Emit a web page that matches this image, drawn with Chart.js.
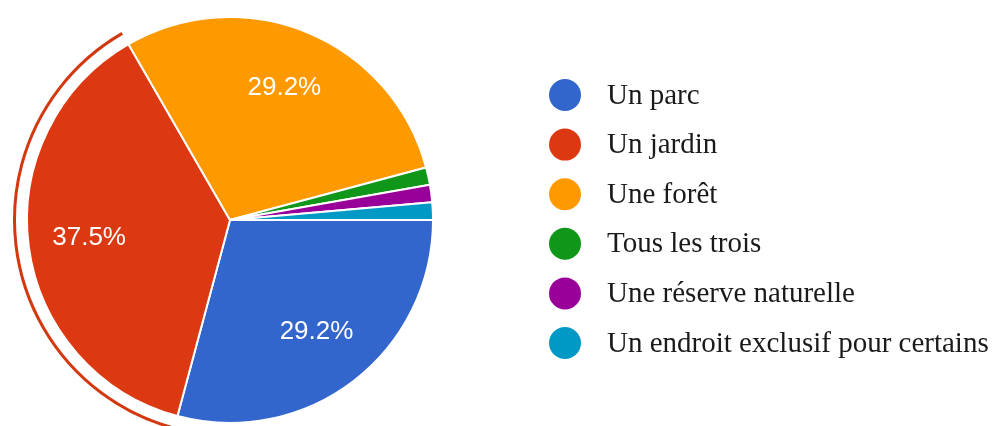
<!DOCTYPE html>
<html lang="fr">
<head>
<meta charset="utf-8">
<script src="https://cdn.jsdelivr.net/npm/chart.js@4/dist/chart.umd.min.js"></script>
<style>
    html, body { margin: 0; padding: 0; background: #fff; }
    #wrap { width: 995px; height: 426px; }
</style>
</head>
<body>
<div id="wrap"><canvas id="lieuChart" width="995" height="426"></canvas></div>
<script>
// Réponses au sondage (nombre de personnes)
const labels = ['Un parc', 'Un jardin', 'Une forêt', 'Tous les trois', 'Une réserve naturelle', 'Un endroit exclusif pour certains'];
const counts = [21, 27, 21, 1, 1, 1];
const colors = ['#3366cc', '#dc3912', '#ff9900', '#109618', '#990099', '#0099c6'];
const highlighted = 1; // tranche mise en avant (Un jardin)

// pourcentages dans les tranches
const sliceLabels = {
    id: 'sliceLabels',
    afterDatasetsDraw(chart) {
        const ctx = chart.ctx;
        const meta = chart.getDatasetMeta(0);
        const data = chart.data.datasets[0].data;
        const total = data.reduce((a, b) => a + b, 0);
        ctx.save();
        ctx.font = '26px "Liberation Sans", Arial, sans-serif';
        ctx.fillStyle = '#ffffff';
        ctx.textAlign = 'center';
        ctx.textBaseline = 'middle';
        meta.data.forEach((arc, i) => {
            const pct = data[i] / total * 100;
            if (pct < 5) return;
            const mid = (arc.startAngle + arc.endAngle) / 2;
            const r = arc.outerRadius * 0.7;
            ctx.fillText(pct.toFixed(1) + '%', arc.x + Math.cos(mid) * r, arc.y + Math.sin(mid) * r - 1);
        });
        ctx.restore();
    }
};

// anneau autour de la tranche sélectionnée
const selectionRing = {
    id: 'selectionRing',
    afterDatasetsDraw(chart) {
        const arc = chart.getDatasetMeta(0).data[highlighted];
        if (!arc) return;
        const ctx = chart.ctx;
        ctx.save();
        ctx.strokeStyle = '#d4380f';
        ctx.lineWidth = 3;
        ctx.beginPath();
        ctx.arc(arc.x, arc.y, arc.outerRadius + 12.5, arc.startAngle, arc.endAngle);
        ctx.stroke();
        ctx.restore();
    }
};

// légende à droite
const sideLegend = {
    id: 'sideLegend',
    afterDraw(chart) {
        const ctx = chart.ctx;
        const ds = chart.data.datasets[0];
        const x0 = 565, y0 = 95, step = 49.6;
        ctx.save();
        ctx.font = '29px "Liberation Serif", "Times New Roman", serif';
        ctx.textBaseline = 'middle';
        ctx.textAlign = 'left';
        chart.data.labels.forEach((lab, i) => {
            const y = y0 + i * step;
            ctx.fillStyle = ds.backgroundColor[i];
            ctx.beginPath();
            ctx.arc(x0, y, 16, 0, Math.PI * 2);
            ctx.fill();
            ctx.fillStyle = '#1a1a1a';
            ctx.fillText(lab, 607, y + 1);
        });
        ctx.restore();
    }
};

new Chart(document.getElementById('lieuChart'), {
    type: 'pie',
    data: {
        labels: labels,
        datasets: [{
            data: counts,
            backgroundColor: colors,
            borderColor: '#ffffff',
            borderWidth: 2,
            hoverOffset: 0
        }]
    },
    options: {
        responsive: false,
        animation: false,
        rotation: 90,
        layout: { padding: { left: 26, top: 16, right: 561, bottom: 2 } },
        plugins: {
            legend: { display: false },
            tooltip: { enabled: false }
        },
        events: []
    },
    plugins: [sliceLabels, selectionRing, sideLegend]
});
</script>
</body>
</html>
